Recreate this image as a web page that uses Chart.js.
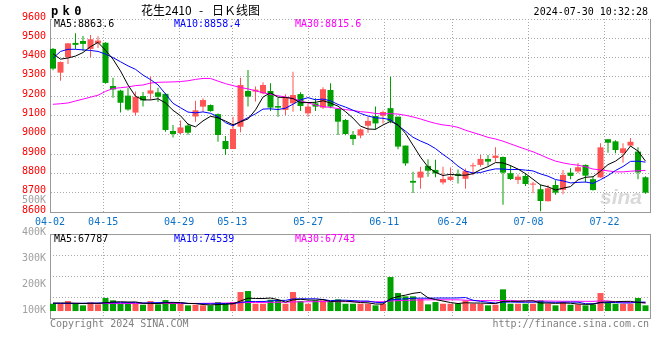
<!DOCTYPE html>
<html><head><meta charset="utf-8">
<script src="https://cdn.jsdelivr.net/npm/chart.js@4.4.1/dist/chart.umd.min.js"></script>
<style>
html,body{margin:0;padding:0;background:#fff;}
#wrap{position:relative;width:660px;height:360px;overflow:hidden;font-family:"DejaVu Sans Mono",monospace;font-size:10px;}
canvas{position:absolute;left:0;}
.t{position:absolute;white-space:pre;line-height:10px;}
.b{font-weight:bold;font-size:12px;line-height:12px;letter-spacing:4.4px;}
.c{font-family:"Noto Sans CJK SC",sans-serif;font-size:12px;line-height:14px;}
</style></head><body>
<div id="wrap">
<canvas id="kc" width="660" height="232" style="top:0"></canvas>
<canvas id="vc" width="660" height="106" style="top:222px"></canvas>
<div class="t" style="right:614px;top:195px;color:#a0a0a0">500K</div>
<div class="t b" style="left:51px;top:5px;">pk0</div>
<div class="t c" style="left:141px;top:3px;">花生2410</div>
<div class="t c" style="left:199px;top:3px;">-</div>
<div class="t c" style="left:212px;top:3px;">日Ｋ线图</div>
<div class="t" style="right:12px;top:7px;">2024-07-30 10:32:28</div>
<div class="t" style="left:54px;top:19px;color:#000">MA5:8863.6</div>
<div class="t" style="left:174px;top:19px;color:#0000ff">MA10:8858.4</div>
<div class="t" style="left:295px;top:19px;color:#ff00ff">MA30:8815.6</div>
<div class="t" style="left:54px;top:234px;color:#000">MA5:67787</div>
<div class="t" style="left:174px;top:234px;color:#0000ff">MA10:74539</div>
<div class="t" style="left:295px;top:234px;color:#ff00ff">MA30:67743</div>
<div class="t" style="left:50px;top:319px;color:#808080">Copyright 2024 SINA.COM</div>
<div class="t" style="right:11px;top:319px;color:#808080">http://finance.sina.com.cn</div>
<div class="t" style="left:600px;top:186px;font:italic bold 21px 'Liberation Sans',sans-serif;color:rgba(170,170,170,0.45);line-height:22px;">sina</div>
</div>
<script>
const dates = ['04-02','04-03','04-08','04-09','04-10','04-11','04-12','04-15','04-16','04-17','04-18','04-19','04-22','04-23','04-24','04-25','04-26','04-29','04-30',
'05-06','05-07','05-08','05-09','05-10','05-13','05-14','05-15','05-16','05-17','05-20','05-21','05-22','05-23','05-24','05-27','05-28','05-29','05-30','05-31',
'06-03','06-04','06-05','06-06','06-07','06-11','06-12','06-13','06-14','06-17','06-18','06-19','06-20','06-21','06-24','06-25','06-26','06-27','06-28',
'07-01','07-02','07-03','07-04','07-05','07-08','07-09','07-10','07-11','07-12','07-15','07-16','07-17','07-18','07-19','07-22','07-23','07-24','07-25','07-26','07-29','07-30'];
const tickLabels = ['04-02','04-15','04-29','05-13','05-27','06-11','06-24','07-08','07-22'];
const priceTicks = [8600,8700,8800,8900,9000,9100,9200,9300,9400,9500,9600];
const volTicks = [100,200,300,400];

const open  = [9445,9322,9402,9476,9486,9445,9474,9477,9253,9229, 9203,9115,9201,9213,9220,9212,9020,9009,9048,9095, 9146,9154,9107,8968,8926,9042,9227,9224,9215,9227, 9149,9129,9163,9211,9111,9163,9141,9232,9134,9077, 8999,8996,9047,9097,9099,9138,9094,8944,8761,8778, 8839,8818,8753,8766,8796,8772,8837,8844,8875,8880, 8885,8801,8766,8787,8742,8718,8656,8740,8715,8804, 8810,8844,8770,8779,8977,8966,8906,8944,8913,8780];
const high  = [9450,9380,9476,9526,9512,9517,9510,9480,9295,9234, 9242,9224,9222,9302,9244,9216,9051,9074,9058,9177, 9190,9157,9110,8994,9094,9296,9336,9250,9272,9267, 9192,9210,9327,9220,9163,9189,9246,9267,9137,9082, 9020,9033,9094,9146,9125,9301,9094,8945,8809,8834, 8873,8871,8834,8830,8820,8826,8855,8895,8895,8935, 8887,8844,8795,8801,8757,8742,8740,8765,8818,8827, 8854,8846,8783,8956,8977,8972,8956,8984,8935,8785];
const low   = [9335,9280,9367,9445,9435,9402,9450,9265,9192,9115, 9125,9100,9146,9182,9170,9016,8986,9004,9000,9068, 9120,9120,8964,8895,8926,9013,9146,9172,9210,9123, 9094,9103,9120,9123,9094,9123,9134,9137,8999,8998, 8947,8982,9011,9028,9059,9060,8925,8840,8698,8720, 8783,8780,8743,8760,8748,8720,8790,8835,8840,8860, 8637,8766,8745,8735,8697,8604,8654,8690,8692,8770, 8801,8753,8710,8778,8907,8904,8855,8944,8770,8695];
const close = [9343,9377,9474,9466,9471,9495,9488,9269,9235,9166, 9131,9197,9178,9230,9197,9025,9004,9038,9011,9127, 9180,9123,8999,8926,9030,9258,9198,9234,9258,9141, 9141,9194,9206,9149,9146,9146,9236,9146,9068,9004, 8978,9028,9072,9059,9118,9070,8939,8852,8752,8809, 8814,8800,8771,8783,8787,8812,8840,8875,8861,8892, 8804,8771,8783,8745,8745,8657,8723,8700,8792,8787, 8832,8788,8714,8935,8959,8921,8930,8964,8805,8700];

const ma5  = [9420,9392,9398,9408,9426.2,9456.6,9478.8,9437.8,9391.6,9330.6, 9257.8,9199.6,9181.4,9180.4,9186.6,9165.4,9126.8,9098.8,9055,9041, 9072,9095.8,9088,9071,9051.6,9067.2,9082.2,9129.2,9195.6,9217.8, 9194.4,9193.6,9188,9166.2,9167.2,9168.2,9176.6,9164.6,9148.4,9120, 9086.4,9044.8,9030,9028.2,9051,9069.4,9051.6,9007.6,8946.2,8884.4, 8833.2,8805.4,8789.2,8795.4,8791,8790.6,8798.6,8819.4,8835,8856, 8854.4,8840.6,8822.2,8799,8769.6,8740.2,8730.6,8714,8723.4,8731.8, 8766.8,8779.8,8782.6,8811.2,8845.6,8863.4,8891.8,8941.8,8915.8,8863.6];
const ma10 = [9397,9432,9443,9443,9440,9437,9432,9418,9400,9378.4, 9357.2,9339.2,9309.6,9286,9258.6,9211.6,9163.2,9140.1,9117.7,9113.8, 9118.7,9111.3,9093.4,9063,9046.3,9069.6,9089,9108.6,9133.3,9134.7, 9130.8,9137.9,9158.6,9180.9,9192.5,9181.3,9185.1,9176.3,9157.3,9143.6, 9127.3,9110.7,9097.3,9088.3,9085.5,9077.9,9048.2,9018.8,8987.2,8967.7, 8951.3,8928.5,8898.4,8870.8,8837.7,8811.9,8802,8804.3,8815.2,8823.5, 8822.5,8819.6,8820.8,8817,8812.8,8797.3,8785.6,8768.1,8761.2,8750.7, 8753.5,8755.2,8748.3,8767.3,8788.7,8815.1,8835.8,8862.2,8863.5,8858.4];
const ma30 = [9158,9161,9165,9175,9185,9195,9205,9225,9240,9244, 9248,9255,9258,9268,9272,9273,9274,9276,9280,9287, 9292,9292,9278,9265,9255,9245,9238,9228,9218,9209, 9202.2,9196.1,9187.2,9176.6,9165.8,9154.2,9145.8,9141.7,9136.1,9130.7, 9125.6,9120,9116.4,9110.7,9108.1,9109.6,9107.4,9101.2,9092.6,9082, 9069.8,9059,9051.4,9046.7,9038.6,9023.7,9011.8,8999.8,8986.6,8978.3, 8967,8952.9,8938.8,8925.4,8912,8895.7,8878.6,8863.7,8854.5,8847.3, 8842.4,8834.4,8822.5,8818.4,8813.1,8808.1,8807.8,8811.5,8813.3,8815.6];

// volume in thousands (K)
const vol   = [61,61,83.5,61,47.6,72.6,55.9,108.6,89.3,61, 61,61,52.6,83.5,55.9,91.9,61,61,47.6,52.6, 47.6,47.6,75.2,61,75.2,158.7,167,61,61,94.4, 94.4,61,158.7,83.5,61,89.3,89.3,75.2,97.7,61, 61,61,61,47.6,61,283.9,150.3,122.7,122.7,102.7, 55.9,75.2,61,61,61,89.3,61,61,47.6,52.6, 181.2,61,61,61,61,89.3,61,47.6,75.2,52.6, 55.9,47.6,55.9,150.3,72.6,61,61,61,108.6,47.6];
const vma5  = [66.8,66.8,66.8,65.1,62.6,65.1,64.3,69.3,75.2,77.7, 75.2,76.0,65.1,63.5,62.6,69.3,69.3,71.0,63.5,62.6, 54.3,50.9,54.3,56.8,61.0,83.5,107.7,104.4,104.4,108.6, 95.2,74.3,93.5,98.5,91.9,91.0,96.0,79.3,82.7,82.7, 76.8,71.0,68.5,58.5,58.5,102.7,121.1,132.8,147.8,156.1, 111.1,96.0,83.5,71.0,62.6,69.3,66.8,66.8,64.3,62.6, 81.0,81.0,81.0,83.5,85.2,66.8,66.8,64.3,66.8,65.1, 58.5,55.9,57.6,72.6,76.8,77.7,80.2,81.0,72.6,67.8];
const vma10 = [64.3,64.3,64.3,64.3,65.1,66.0,66.8,68.5,69.3, 70.1,70.1,70.1,66.8,69.3,70.1,71.8,72.6,67.6,63.5, 62.6,61.8,60.1,61.8,62.6,61.8,71.8,79.3,79.3,79.3, 84.3,88.5,89.3,101.0,101.9,101.9,102.7,96.0,86.8,90.2, 90.2,86.8,83.5,83.5,72.6,70.1,92.7,98.5,101.9,106.9, 107.7,106.9,108.6,108.6,108.6,109.4,112.7,90.2,81.0,73.5, 66.8,74.3,75.2,73.5,73.5,73.5,76.8,73.5,72.6,73.5, 74.3,74.3,61.0,61.0,69.3,71.0,71.0,67.6,67.6,74.3,74.5];
const vma30 = [63.5,63.5,63.5,63.5,63.5,63.5,63.5,63.5,63.5,63.5, 63.5,63.5,63.5,63.5,63.5,63.5,63.5,63.5,63.5,63.5, 64.3,65.1,66.0,66.8,68.5,70.1,71.0,71.8,71.8,72.6, 73.7,73.7,76.2,77.0,77.4,78.0,79.1,78.0,78.2,78.2, 78.2,78.2,78.5,77.3,77.5,83.9,86.8,88.9,91.4,93.1, 93.4,94.3,93.9,93.9,93.4,91.0,87.5,87.5,87.1,85.7, 88.6,88.6,85.3,84.6,84.6,84.6,83.6,82.7,81.9,81.7, 81.5,81.1,80.9,84.3,84.7,77.2,74.3,72.2,71.7,67.7];

const UP = '#ff5555', DN = '#00a000';
const GRID = '#a8a8a8', FRAME = '#999999';
const FONT = {family: 'DejaVu Sans Mono', size: 10};
const N = dates.length;
const cx = i => i + 0.4;               // candle centre in index units
const gridPos = d => dates.indexOf(d) * N / (N - 1);
const candleColors = dates.map((d, i) => close[i] >= open[i] ? UP : DN);

Chart.defaults.font.family = 'DejaVu Sans Mono';
Chart.defaults.font.size = 10;

const frame = {
  id: 'frame',
  afterDraw(c, args, opts) {
    const {ctx, chartArea: a} = c;
    ctx.save();
    ctx.strokeStyle = FRAME; ctx.lineWidth = 1; ctx.setLineDash([]);
    ctx.beginPath();
    const r = Math.round(a.right) + 0.5;
    ctx.moveTo(r, a.top); ctx.lineTo(r, a.bottom);
    if (opts.top) { const t = Math.round(a.top) + 0.5; ctx.moveTo(a.left, t); ctx.lineTo(a.right, t); }
    ctx.stroke();
    ctx.restore();
  }
};

function xScale(showLabels) {
  return {
    type: 'linear', min: 0, max: N, offset: false,
    afterBuildTicks: s => { s.ticks = tickLabels.map(d => ({value: gridPos(d)})); },
    ticks: {display: showLabels, autoSkip: false, maxRotation: 0, minRotation: 0, padding: 4,
            color: '#0a70c8', font: FONT, callback: (v, i) => tickLabels[i]},
    grid: {color: GRID, drawTicks: false, offset: false, lineWidth: 1},
    border: {color: FRAME, dash: [1, 2]},
    afterFit: s => { s.height = showLabels ? 20 : 0; }
  };
}
function lineDs(arr, color, axis) {
  return {type: 'line', data: arr.map((v, i) => ({x: cx(i), y: v})), borderColor: color,
          borderWidth: 1, pointRadius: 0, tension: 0, fill: false, yAxisID: axis};
}

new Chart(document.getElementById('kc'), {
  type: 'bar',
  data: {datasets: [
    lineDs(ma5, '#000000', 'y'),
    lineDs(ma10, '#0000ff', 'y'),
    lineDs(ma30, '#ff00ff', 'y'),
    {type: 'bar', data: dates.map((d, i) => ({x: cx(i), y: [open[i], close[i]]})),
     backgroundColor: candleColors, barThickness: 6, grouped: false, minBarLength: 1, borderWidth: 0, inflateAmount: 0, yAxisID: 'y'},
    {type: 'bar', data: dates.map((d, i) => ({x: cx(i), y: [low[i], high[i]]})),
     backgroundColor: candleColors, barThickness: 1, grouped: false, borderWidth: 0, inflateAmount: 0, yAxisID: 'y'}
  ]},
  options: {
    responsive: false, animation: false, devicePixelRatio: 1,
    layout: {padding: {top: 19, right: 10, left: 0, bottom: 0}},
    plugins: {legend: {display: false}, tooltip: {enabled: false}, frame: {top: false}},
    scales: {
      x: xScale(true),
      y: {type: 'linear', position: 'left', min: 8600, max: 9600,
          afterBuildTicks: s => { s.ticks = priceTicks.map(v => ({value: v})); },
          ticks: {color: '#ff0000', font: FONT, padding: 4, labelOffset: -2, callback: v => String(v)},
          grid: {color: GRID, drawTicks: false},
          border: {color: FRAME, dash: [1, 2]},
          afterFit: s => { s.width = 50; }}
    }
  },
  plugins: [frame]
});

new Chart(document.getElementById('vc'), {
  type: 'bar',
  data: {datasets: [
    lineDs(vma5, '#000000', 'yv'),
    lineDs(vma10, '#0000ff', 'yv'),
    lineDs(vma30, '#ff00ff', 'yv'),
    {type: 'bar', data: dates.map((d, i) => ({x: cx(i), y: vol[i]})),
     backgroundColor: candleColors, barThickness: 6, grouped: false, borderWidth: 0, inflateAmount: 0, yAxisID: 'yv'}
  ]},
  options: {
    responsive: false, animation: false, devicePixelRatio: 1,
    layout: {padding: {top: 12, right: 10, left: 0, bottom: 10}},
    plugins: {legend: {display: false}, tooltip: {enabled: false}, frame: {top: true}},
    scales: {
      x: xScale(false),
      yl: {type: 'linear', position: 'left', min: 80, max: 400,
           afterBuildTicks: s => { s.ticks = volTicks.map(v => ({value: v})); },
           ticks: {color: '#a0a0a0', font: FONT, padding: 4, labelOffset: -2, callback: v => v + 'K'},
           grid: {display: false, drawTicks: false},
           border: {color: FRAME},
           afterFit: s => { s.width = 50; }},
      yg: {type: 'linear', position: 'left', min: 0, max: 4,
           ticks: {display: false, stepSize: 1},
           grid: {color: GRID, drawTicks: false},
           border: {display: false, dash: [1, 2]},
           afterFit: s => { s.width = 0; }},
      yv: {type: 'linear', display: false, min: -58, max: 643}
    }
  },
  plugins: [frame]
});
</script>
</body></html>
